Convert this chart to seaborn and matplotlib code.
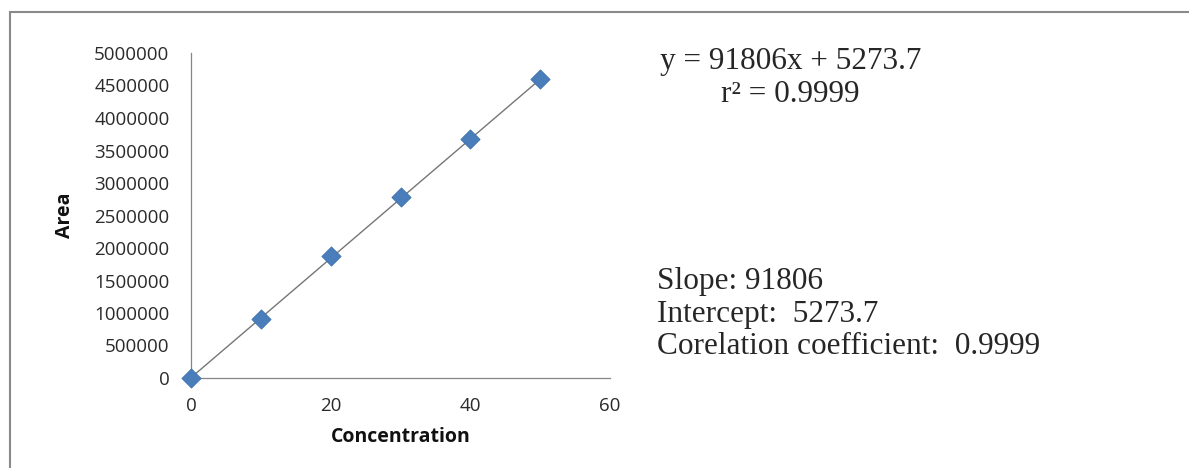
import numpy as np
import pandas as pd
import matplotlib
matplotlib.use("Agg")
import matplotlib.pyplot as plt
import seaborn as sns
from matplotlib.lines import Line2D

## calibration data
concentration = [0, 10, 20, 30, 40, 50]
area = [0, 905000, 1870000, 2790000, 3680000, 4600000]

slope = 91806
intercept = 5273.7

eq_text = "y = 91806x + 5273.7"
r2_text = "r² = 0.9999"
stats_lines = ["Slope: 91806", "Intercept:  5273.7", "Corelation coefficient:  0.9999"]

df = pd.DataFrame({"Concentration": concentration, "Area": area})

sns.set_style("white")
plt.rcParams["font.family"] = ["Open Sans", "DejaVu Sans"]

W, H = 1189, 468
fig = plt.figure(figsize=(W / 100, H / 100), dpi=100)
ax = fig.add_axes([191 / W, 1 - 378 / H, (610 - 191) / W, (378 - 53) / H])

## trendline from the reported fit, over the data range
xs = np.array([min(concentration), max(concentration)])
sns.lineplot(x=xs, y=slope * xs + intercept, ax=ax, color="#767676", lw=1.0, zorder=2)
sns.scatterplot(data=df, x="Concentration", y="Area", ax=ax, marker="D", s=95,
                color="#4a7ebb", edgecolor="#3d6fae", linewidth=0.6, zorder=3, clip_on=False)

ax.set_xlim(0, 60)
ax.set_ylim(0, 5000000)
ax.set_xticks([0, 20, 40, 60])
ax.set_yticks(np.arange(0, 5000001, 500000))
ax.ticklabel_format(style="plain", axis="y")
ax.tick_params(axis="both", direction="out", length=5.5, width=0.9, color="#868686",
               labelsize=13.5, labelcolor="#2a2a2a")
ax.tick_params(axis="y", pad=10)
ax.tick_params(axis="x", pad=8)
for s in ["top", "right"]:
    ax.spines[s].set_visible(False)
for s in ["left", "bottom"]:
    ax.spines[s].set_color("#868686")
    ax.spines[s].set_linewidth(0.9)
ax.set_xlabel("Concentration", fontsize=14, fontweight="bold", labelpad=9, color="#111111")
ax.set_ylabel("Area", fontsize=14, fontweight="bold", labelpad=14, color="#111111")

serif = ["Liberation Serif", "DejaVu Serif"]
fig.text(791 / W, 1 - 62 / H, eq_text, ha="center", va="center", fontsize=22.5, family=serif)
fig.text(790 / W, 1 - 95 / H, r2_text, ha="center", va="center", fontsize=22.5, family=serif)
for i, line in enumerate(stats_lines):
    fig.text(657 / W, 1 - (282 + i * 32.5) / H, line, ha="left", va="center",
             fontsize=22.5, family=serif)

## partial frame around the picture
fig.add_artist(Line2D([10 / W, 1], [1 - 12 / H, 1 - 12 / H], color="#8a8a8a", lw=1.5))
fig.add_artist(Line2D([10 / W, 10 / W], [0, 1 - 12 / H], color="#8a8a8a", lw=1.5))

fig.savefig("out.png", dpi=100)
